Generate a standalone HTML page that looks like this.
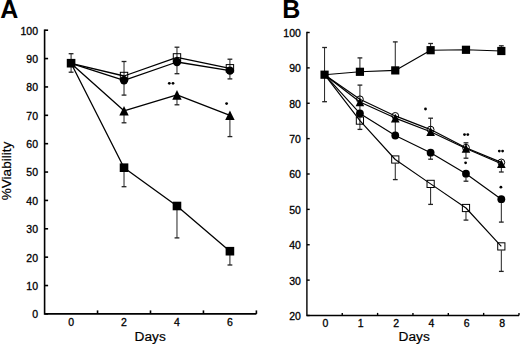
<!DOCTYPE html>
<html><head><meta charset="utf-8"><style>
html,body{margin:0;padding:0;background:#fff;}
body{width:520px;height:346px;overflow:hidden;font-family:"Liberation Sans", sans-serif;}
svg{display:block;}
</style></head><body>
<svg width="520" height="346" viewBox="0 0 520 346">
<rect width="520" height="346" fill="#fff"/>
<text x="0.2" y="17.9" font-family='"Liberation Sans", sans-serif' font-weight="bold" font-size="25">A</text>
<text x="282.3" y="17.9" font-family='"Liberation Sans", sans-serif' font-weight="bold" font-size="25">B</text>
<g stroke="#000" stroke-width="1.6" fill="none">
<path d="M44.6,29.4 V313.9 H256.4"/>
<line x1="44.6" y1="313.9" x2="48.1" y2="313.9"/>
<line x1="44.6" y1="285.53" x2="48.1" y2="285.53"/>
<line x1="44.6" y1="257.16" x2="48.1" y2="257.16"/>
<line x1="44.6" y1="228.79" x2="48.1" y2="228.79"/>
<line x1="44.6" y1="200.42" x2="48.1" y2="200.42"/>
<line x1="44.6" y1="172.05" x2="48.1" y2="172.05"/>
<line x1="44.6" y1="143.68" x2="48.1" y2="143.68"/>
<line x1="44.6" y1="115.31" x2="48.1" y2="115.31"/>
<line x1="44.6" y1="86.94" x2="48.1" y2="86.94"/>
<line x1="44.6" y1="58.57" x2="48.1" y2="58.57"/>
<line x1="44.6" y1="30.2" x2="48.1" y2="30.2"/>
<line x1="97.55" y1="313.9" x2="97.55" y2="310.4"/>
<line x1="150.5" y1="313.9" x2="150.5" y2="310.4"/>
<line x1="203.45" y1="313.9" x2="203.45" y2="310.4"/>
<line x1="256.4" y1="313.9" x2="256.4" y2="310.4"/>
</g>
<g font-family='"Liberation Sans", sans-serif' font-size="10.5" text-anchor="end" fill="#000" stroke="#000" stroke-width="0.3">
<text x="38.0" y="318.3">0</text>
<text x="38.0" y="289.93">10</text>
<text x="38.0" y="261.56">20</text>
<text x="38.0" y="233.19">30</text>
<text x="38.0" y="204.82">40</text>
<text x="38.0" y="176.45">50</text>
<text x="38.0" y="148.08">60</text>
<text x="38.0" y="119.71">70</text>
<text x="38.0" y="91.34">80</text>
<text x="38.0" y="62.97">90</text>
<text x="38.0" y="34.6">100</text>
</g>
<g font-family='"Liberation Sans", sans-serif' font-size="10.5" text-anchor="middle" fill="#000" stroke="#000" stroke-width="0.3">
<text x="71.08" y="326">0</text>
<text x="124.03" y="326">2</text>
<text x="176.97" y="326">4</text>
<text x="229.92" y="326">6</text>
</g>
<text x="150.2" y="341.4" font-family='"Liberation Sans", sans-serif' font-size="13.7" stroke="#000" stroke-width="0.2" text-anchor="middle">Days</text>
<text transform="translate(10.6,171) rotate(-90)" font-family='"Liberation Sans", sans-serif' font-size="13.6" stroke="#000" stroke-width="0.2" text-anchor="middle">%Viability</text>
<g stroke="#000" stroke-width="1.4" fill="none">
<path d="M306.9,31.8 V315.5 H519"/>
<line x1="306.9" y1="315.5" x2="309.7" y2="315.5"/>
<line x1="306.9" y1="280.12" x2="309.7" y2="280.12"/>
<line x1="306.9" y1="244.75" x2="309.7" y2="244.75"/>
<line x1="306.9" y1="209.38" x2="309.7" y2="209.38"/>
<line x1="306.9" y1="174" x2="309.7" y2="174"/>
<line x1="306.9" y1="138.62" x2="309.7" y2="138.62"/>
<line x1="306.9" y1="103.25" x2="309.7" y2="103.25"/>
<line x1="306.9" y1="67.88" x2="309.7" y2="67.88"/>
<line x1="306.9" y1="32.5" x2="309.7" y2="32.5"/>
<line x1="342.25" y1="315.5" x2="342.25" y2="312.9"/>
<line x1="377.6" y1="315.5" x2="377.6" y2="312.9"/>
<line x1="412.95" y1="315.5" x2="412.95" y2="312.9"/>
<line x1="448.3" y1="315.5" x2="448.3" y2="312.9"/>
<line x1="483.65" y1="315.5" x2="483.65" y2="312.9"/>
<line x1="519" y1="315.5" x2="519" y2="312.9"/>
</g>
<g font-family='"Liberation Sans", sans-serif' font-size="10.5" text-anchor="end" fill="#000" stroke="#000" stroke-width="0.3">
<text x="300.9" y="319.9">20</text>
<text x="300.9" y="284.52">30</text>
<text x="300.9" y="249.15">40</text>
<text x="300.9" y="213.78">50</text>
<text x="300.9" y="178.4">60</text>
<text x="300.9" y="143.03">70</text>
<text x="300.9" y="107.65">80</text>
<text x="300.9" y="72.28">90</text>
<text x="300.9" y="36.9">100</text>
</g>
<g font-family='"Liberation Sans", sans-serif' font-size="10.5" text-anchor="middle" fill="#000" stroke="#000" stroke-width="0.3">
<text x="325.38" y="326.8">0</text>
<text x="360.72" y="326.8">1</text>
<text x="396.07" y="326.8">2</text>
<text x="431.43" y="326.8">4</text>
<text x="466.78" y="326.8">6</text>
<text x="502.12" y="326.8">8</text>
</g>
<text x="414.2" y="341.4" font-family='"Liberation Sans", sans-serif' font-size="13.7" stroke="#000" stroke-width="0.2" text-anchor="middle">Days</text>
<line x1="71.08" y1="53.7" x2="71.08" y2="72.2" stroke="#222" stroke-width="1"/><line x1="68.67" y1="53.7" x2="73.48" y2="53.7" stroke="#222" stroke-width="1.3"/><line x1="68.67" y1="72.2" x2="73.48" y2="72.2" stroke="#222" stroke-width="1.3"/>
<line x1="124.03" y1="61.5" x2="124.03" y2="95.1" stroke="#222" stroke-width="1"/><line x1="121.62" y1="61.5" x2="126.43" y2="61.5" stroke="#222" stroke-width="1.3"/><line x1="121.62" y1="95.1" x2="126.43" y2="95.1" stroke="#222" stroke-width="1.3"/>
<line x1="124.03" y1="110.8" x2="124.03" y2="122.8" stroke="#222" stroke-width="1"/><line x1="121.62" y1="122.8" x2="126.43" y2="122.8" stroke="#222" stroke-width="1.3"/>
<line x1="124.03" y1="167.7" x2="124.03" y2="186.7" stroke="#222" stroke-width="1"/><line x1="121.62" y1="186.7" x2="126.43" y2="186.7" stroke="#222" stroke-width="1.3"/>
<line x1="176.97" y1="47.2" x2="176.97" y2="73.7" stroke="#222" stroke-width="1"/><line x1="174.57" y1="47.2" x2="179.38" y2="47.2" stroke="#222" stroke-width="1.3"/><line x1="174.57" y1="73.7" x2="179.38" y2="73.7" stroke="#222" stroke-width="1.3"/>
<line x1="176.97" y1="94.9" x2="176.97" y2="104.8" stroke="#222" stroke-width="1"/><line x1="174.57" y1="104.8" x2="179.38" y2="104.8" stroke="#222" stroke-width="1.3"/>
<line x1="176.97" y1="206" x2="176.97" y2="237.9" stroke="#222" stroke-width="1"/><line x1="174.57" y1="237.9" x2="179.38" y2="237.9" stroke="#222" stroke-width="1.3"/>
<line x1="229.92" y1="59.2" x2="229.92" y2="78.9" stroke="#222" stroke-width="1"/><line x1="227.52" y1="59.2" x2="232.32" y2="59.2" stroke="#222" stroke-width="1.3"/><line x1="227.52" y1="78.9" x2="232.32" y2="78.9" stroke="#222" stroke-width="1.3"/>
<line x1="229.92" y1="115.3" x2="229.92" y2="136.6" stroke="#222" stroke-width="1"/><line x1="227.52" y1="136.6" x2="232.32" y2="136.6" stroke="#222" stroke-width="1.3"/>
<line x1="229.92" y1="251.2" x2="229.92" y2="265" stroke="#222" stroke-width="1"/><line x1="227.52" y1="265" x2="232.32" y2="265" stroke="#222" stroke-width="1.3"/>
<polyline points="71.08,63.4 124.03,76 176.97,57.4 229.92,68.3" fill="none" stroke="#000" stroke-width="1.3" stroke-linejoin="round"/>
<polyline points="71.08,63.4 124.03,80.3 176.97,62 229.92,70.6" fill="none" stroke="#000" stroke-width="1.3" stroke-linejoin="round"/>
<polyline points="71.08,63.4 124.03,110.8 176.97,94.9 229.92,115.3" fill="none" stroke="#000" stroke-width="1.3" stroke-linejoin="round"/>
<polyline points="71.08,63.2 124.03,167.7 176.97,206 229.92,251.2" fill="none" stroke="#000" stroke-width="1.3" stroke-linejoin="round"/>
<rect x="120.33" y="72.3" width="7.4" height="7.4" fill="none" stroke="#000" stroke-width="1"/>
<rect x="173.28" y="53.7" width="7.4" height="7.4" fill="none" stroke="#000" stroke-width="1"/>
<rect x="226.22" y="64.6" width="7.4" height="7.4" fill="none" stroke="#000" stroke-width="1"/>
<circle cx="124.03" cy="80.3" r="4.2" fill="#000"/>
<circle cx="176.97" cy="62" r="4.2" fill="#000"/>
<circle cx="229.92" cy="70.6" r="4.2" fill="#000"/>
<polygon points="124.03,106 119.33,115.6 128.72,115.6" fill="#000"/>
<polygon points="176.97,90.1 172.28,99.7 181.67,99.7" fill="#000"/>
<polygon points="229.92,110.5 225.22,120.1 234.62,120.1" fill="#000"/>
<rect x="66.78" y="58.9" width="8.6" height="8.6" fill="#000"/>
<rect x="119.73" y="163.4" width="8.6" height="8.6" fill="#000"/>
<rect x="172.67" y="201.7" width="8.6" height="8.6" fill="#000"/>
<rect x="225.62" y="246.9" width="8.6" height="8.6" fill="#000"/>
<circle cx="169.3" cy="83.3" r="1.4" fill="#000"/>
<circle cx="173" cy="83.3" r="1.4" fill="#000"/>
<circle cx="226.6" cy="103.6" r="1.4" fill="#000"/>
<line x1="324.57" y1="47.5" x2="324.57" y2="101.7" stroke="#222" stroke-width="1"/><line x1="322.18" y1="47.5" x2="326.97" y2="47.5" stroke="#222" stroke-width="1.3"/><line x1="322.18" y1="101.7" x2="326.97" y2="101.7" stroke="#222" stroke-width="1.3"/>
<line x1="359.92" y1="57.9" x2="359.92" y2="71.8" stroke="#222" stroke-width="1"/><line x1="357.52" y1="57.9" x2="362.32" y2="57.9" stroke="#222" stroke-width="1.3"/>
<line x1="359.92" y1="85.1" x2="359.92" y2="129.4" stroke="#222" stroke-width="1"/><line x1="357.52" y1="85.1" x2="362.32" y2="85.1" stroke="#222" stroke-width="1.3"/><line x1="357.52" y1="129.4" x2="362.32" y2="129.4" stroke="#222" stroke-width="1.3"/>
<line x1="395.27" y1="41.9" x2="395.27" y2="70.4" stroke="#222" stroke-width="1"/><line x1="392.88" y1="41.9" x2="397.67" y2="41.9" stroke="#222" stroke-width="1.3"/>
<line x1="395.27" y1="118.1" x2="395.27" y2="135.5" stroke="#222" stroke-width="1"/>
<line x1="395.27" y1="163.4" x2="395.27" y2="179.6" stroke="#222" stroke-width="1"/><line x1="392.88" y1="179.6" x2="397.67" y2="179.6" stroke="#222" stroke-width="1.3"/>
<line x1="430.62" y1="43.5" x2="430.62" y2="50.2" stroke="#222" stroke-width="1"/><line x1="428.23" y1="43.5" x2="433.02" y2="43.5" stroke="#222" stroke-width="1.3"/>
<line x1="430.62" y1="118.2" x2="430.62" y2="129.6" stroke="#222" stroke-width="1"/><line x1="428.23" y1="118.2" x2="433.02" y2="118.2" stroke="#222" stroke-width="1.3"/>
<line x1="430.62" y1="152.7" x2="430.62" y2="159.2" stroke="#222" stroke-width="1"/><line x1="428.23" y1="159.2" x2="433.02" y2="159.2" stroke="#222" stroke-width="1.3"/>
<line x1="430.62" y1="187.8" x2="430.62" y2="204.4" stroke="#222" stroke-width="1"/><line x1="428.23" y1="204.4" x2="433.02" y2="204.4" stroke="#222" stroke-width="1.3"/>
<line x1="465.98" y1="142.8" x2="465.98" y2="158.2" stroke="#222" stroke-width="1"/><line x1="463.58" y1="142.8" x2="468.38" y2="142.8" stroke="#222" stroke-width="1.3"/><line x1="463.58" y1="158.2" x2="468.38" y2="158.2" stroke="#222" stroke-width="1.3"/>
<line x1="465.98" y1="173.7" x2="465.98" y2="181.2" stroke="#222" stroke-width="1"/><line x1="463.58" y1="181.2" x2="468.38" y2="181.2" stroke="#222" stroke-width="1.3"/>
<line x1="465.98" y1="211.9" x2="465.98" y2="220.1" stroke="#222" stroke-width="1"/><line x1="463.58" y1="220.1" x2="468.38" y2="220.1" stroke="#222" stroke-width="1.3"/>
<line x1="501.32" y1="45.8" x2="501.32" y2="51" stroke="#222" stroke-width="1"/><line x1="498.93" y1="45.8" x2="503.72" y2="45.8" stroke="#222" stroke-width="1.3"/>
<line x1="501.32" y1="163.7" x2="501.32" y2="172" stroke="#222" stroke-width="1"/><line x1="498.93" y1="172" x2="503.72" y2="172" stroke="#222" stroke-width="1.3"/>
<line x1="501.32" y1="199.2" x2="501.32" y2="222.1" stroke="#222" stroke-width="1"/><line x1="498.93" y1="222.1" x2="503.72" y2="222.1" stroke="#222" stroke-width="1.3"/>
<line x1="501.32" y1="250.3" x2="501.32" y2="271.4" stroke="#222" stroke-width="1"/><line x1="498.93" y1="271.4" x2="503.72" y2="271.4" stroke="#222" stroke-width="1.3"/>
<polyline points="324.57,74.7 359.92,71.8 395.27,70.4 430.62,50.2 465.98,49.8 501.32,51" fill="none" stroke="#000" stroke-width="1.15" stroke-linejoin="round"/>
<polyline points="324.57,74.7 359.92,99.3 395.27,115.9 430.62,129.6 465.98,147.7 501.32,162.4" fill="none" stroke="#000" stroke-width="1.15" stroke-linejoin="round"/>
<polyline points="324.57,74.7 359.92,102 395.27,118.1 430.62,131.8 465.98,148.5 501.32,163.7" fill="none" stroke="#000" stroke-width="1.15" stroke-linejoin="round"/>
<polyline points="324.57,74.7 359.92,113.4 395.27,135.5 430.62,152.7 465.98,173.7 501.32,199.2" fill="none" stroke="#000" stroke-width="1.15" stroke-linejoin="round"/>
<polyline points="324.57,74.7 359.92,120.6 395.27,159.5 430.62,183.9 465.98,208 501.32,246.4" fill="none" stroke="#000" stroke-width="1.15" stroke-linejoin="round"/>
<rect x="356.32" y="117" width="7.2" height="7.2" fill="none" stroke="#000" stroke-width="1"/>
<rect x="391.67" y="155.9" width="7.2" height="7.2" fill="none" stroke="#000" stroke-width="1"/>
<rect x="427.02" y="180.3" width="7.2" height="7.2" fill="none" stroke="#000" stroke-width="1"/>
<rect x="462.38" y="204.4" width="7.2" height="7.2" fill="none" stroke="#000" stroke-width="1"/>
<rect x="497.72" y="242.8" width="7.2" height="7.2" fill="none" stroke="#000" stroke-width="1"/>
<circle cx="359.92" cy="113.4" r="3.9" fill="#000"/>
<circle cx="395.27" cy="135.5" r="3.9" fill="#000"/>
<circle cx="430.62" cy="152.7" r="3.9" fill="#000"/>
<circle cx="465.98" cy="173.7" r="3.9" fill="#000"/>
<circle cx="501.32" cy="199.2" r="3.9" fill="#000"/>
<polygon points="359.92,97.7 355.62,106.3 364.22,106.3" fill="#000"/>
<polygon points="395.27,113.8 390.97,122.4 399.57,122.4" fill="#000"/>
<polygon points="430.62,127.5 426.32,136.1 434.93,136.1" fill="#000"/>
<polygon points="465.98,144.2 461.68,152.8 470.28,152.8" fill="#000"/>
<polygon points="501.32,159.4 497.02,168 505.62,168" fill="#000"/>
<circle cx="359.92" cy="99.3" r="3.4" fill="none" stroke="#000" stroke-width="1"/>
<circle cx="395.27" cy="115.9" r="3.4" fill="none" stroke="#000" stroke-width="1"/>
<circle cx="430.62" cy="129.6" r="3.4" fill="none" stroke="#000" stroke-width="1"/>
<circle cx="465.98" cy="147.7" r="3.4" fill="none" stroke="#000" stroke-width="1"/>
<circle cx="501.32" cy="162.4" r="3.4" fill="none" stroke="#000" stroke-width="1"/>
<rect x="320.47" y="70.6" width="8.2" height="8.2" fill="#000"/>
<rect x="355.82" y="67.7" width="8.2" height="8.2" fill="#000"/>
<rect x="391.17" y="66.3" width="8.2" height="8.2" fill="#000"/>
<rect x="426.52" y="46.1" width="8.2" height="8.2" fill="#000"/>
<rect x="461.88" y="45.7" width="8.2" height="8.2" fill="#000"/>
<rect x="497.22" y="46.9" width="8.2" height="8.2" fill="#000"/>
<circle cx="425.5" cy="109" r="1.4" fill="#000"/>
<circle cx="464.5" cy="134.6" r="1.4" fill="#000"/>
<circle cx="467.8" cy="134.6" r="1.4" fill="#000"/>
<circle cx="465.6" cy="162.8" r="1.4" fill="#000"/>
<circle cx="499.3" cy="151.1" r="1.4" fill="#000"/>
<circle cx="502.6" cy="151.1" r="1.4" fill="#000"/>
<circle cx="500.9" cy="187.2" r="1.4" fill="#000"/>
</svg>
</body></html>
